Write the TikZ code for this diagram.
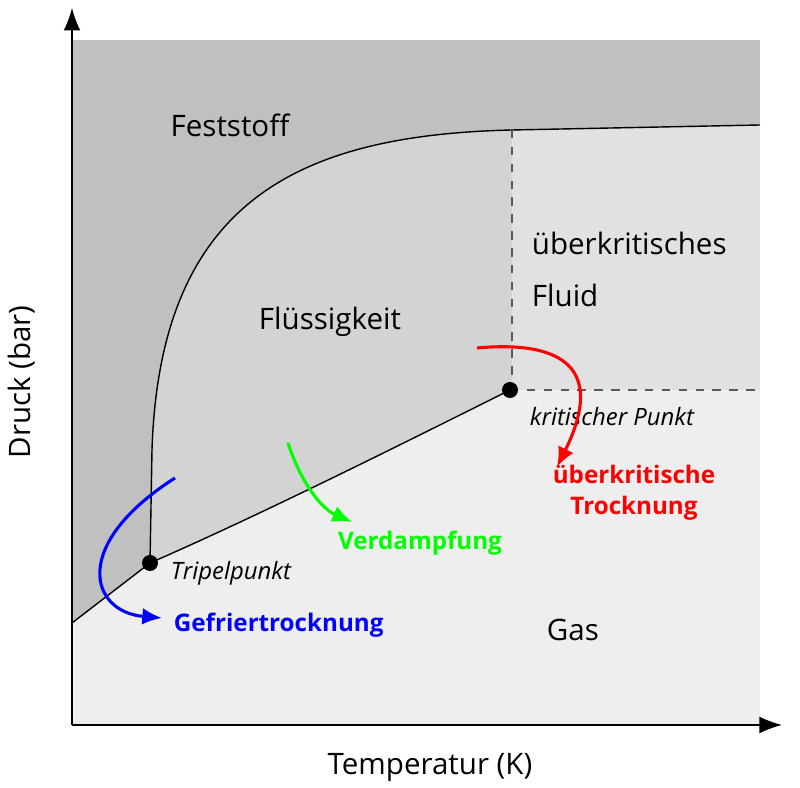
\documentclass[tikz,border=0pt]{standalone}
\usepackage{fontspec}
\setmainfont{Open Sans}
\usetikzlibrary{arrows.meta}
\definecolor{solidc}{HTML}{C0C0C0}
\definecolor{liquidc}{HTML}{D3D3D3}
\definecolor{fluidc}{HTML}{E1E1E1}
\definecolor{gasc}{HTML}{EEEEEE}
\begin{document}
\begin{tikzpicture}[x=0.0125cm, y=-0.0125cm,
    phase/.style={font=\fontsize{10.5}{12}\selectfont},
    point/.style={font=\fontsize{8.5}{10}\selectfont\itshape},
    process/.style={font=\fontsize{8.6}{11}\selectfont\bfseries, align=center},
    route/.style={-{Latex[length=7pt,width=6pt]}, line width=1.1pt},
    curve/.style={line width=0.5pt},
    axis/.style={-{Latex[length=8pt,width=6pt]}, line width=0.5pt}
]
    \useasboundingbox (0,0) rectangle (800,788);

    % Regions
    \fill[solidc] (72,40) rectangle (760,725);
    \fill[liquidc] (150,563) -- (152,450) .. controls (160,200) and (300,135) .. (512,130)
        -- (512,390) -- (510,390) .. controls (400,445) and (260,515) .. (150,563) -- cycle;
    \fill[fluidc] (512,130) -- (760,125) -- (760,390) -- (512,390) -- cycle;
    \fill[gasc] (72,623) -- (150,563) .. controls (260,515) and (400,445) .. (510,390)
        -- (760,390) -- (760,725) -- (72,725) -- cycle;

    % Phase boundaries
    \coordinate (tp) at (150,563);
    \coordinate (cp) at (510,390);
    \draw[curve] (72,623) -- (tp);
    \draw[curve] (tp) .. controls (260,515) and (400,445) .. (cp);
    \draw[curve] (tp) -- (152,450) .. controls (160,200) and (300,135) .. (512,130) -- (760,125);
    \draw[curve, dashed, gray!70!black] (512,130) -- (512,390);
    \draw[curve, dashed, gray!70!black] (cp) -- (760,390);
    \fill (tp) circle (8);
    \fill (cp) circle (8);

    % Axes
    \coordinate (o) at (72,725);
    \draw[axis] (o) -- (72,8);
    \draw[axis] (o) -- (782,725);
    \node[phase] (tlabel) at (430,768) {Temperatur (K)};
    \node[phase, rotate=90] (plabel) at (22,382) {Druck (bar)};

    % Phase labels
    \node[phase] (solidl) at (230,125) {Feststoff};
    \node[phase] (liquidl) at (330,322) {Flüssigkeit};
    \node[phase, anchor=west] (fluidl1) at (522,243) {überkritisches};
    \node[phase, anchor=west] (fluidl2) at (522,295) {Fluid};
    \node[phase] (gasl) at (573,630) {Gas};
    \node[point] (cpl) at (612,417) {kritischer Punkt};
    \node[point] (tpl) at (231,573) {Tripelpunkt};

    % Processes
    \coordinate (b0) at (175,478);
    \coordinate (b1) at (162,618);
    \draw[route, blue] (b0) .. controls (70,545) and (90,612) .. (b1);
    \node[process, blue, anchor=west] (freeze) at (164,625) {Gefriertrocknung};
    \coordinate (g0) at (288,443);
    \coordinate (g1) at (352,522);
    \draw[route, green] (g0) .. controls (300,480) and (320,508) .. (g1);
    \node[process, green] (evap) at (420,543) {Verdampfung};
    \coordinate (r0) at (477,348);
    \coordinate (r1) at (557,467);
    \draw[route, red] (r0) .. controls (565,340) and (605,370) .. (r1);
    \node[process, red] (scd) at (634,493) {überkritische\\Trocknung};
\end{tikzpicture}
\end{document}
